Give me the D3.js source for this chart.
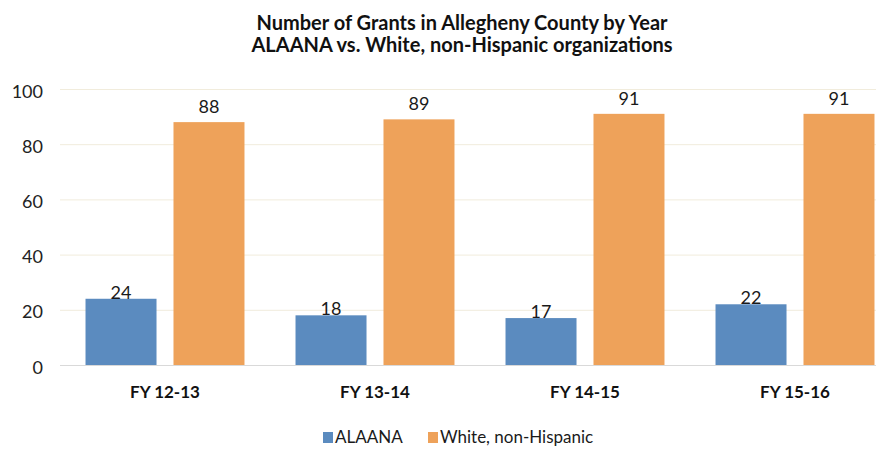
<!DOCTYPE html>
<html>
<head>
<meta charset="utf-8">
<script src="https://cdn.jsdelivr.net/npm/d3@7"></script>
<style>
  html, body { margin: 0; padding: 0; background: #ffffff; }
  svg { display: block; font-family: Lato, "Open Sans", sans-serif; }
</style>
</head>
<body>
<svg id="chart" width="876" height="449"></svg>
<script>
const titleLines = ["Number of Grants in Allegheny County by Year", "ALAANA vs. White, non-Hispanic organizations"];
const categories = ["FY 12-13", "FY 13-14", "FY 14-15", "FY 15-16"];
const seriesNames = ["ALAANA", "White, non-Hispanic"];
const alaana = [24, 18, 17, 22];
const whiteNonHispanic = [88, 89, 91, 91];
const yTicks = [0, 20, 40, 60, 80, 100];
const colors = ["#5b8bbf", "#eea25a"];

const seriesValues = [alaana, whiteNonHispanic];
const rows = categories.map((c, i) => ({
  cat: c,
  vals: seriesNames.map((s, j) => ({ series: s, idx: j, value: seriesValues[j][i] }))
}));

const W = 876, H = 449;
const svg = d3.select("#chart");
svg.append("rect").attr("width", W).attr("height", H).attr("fill", "#ffffff");

const plotLeft = 60, plotRight = 900, plotTop = 89, plotBottom = 365;

const x0 = d3.scaleBand().domain(categories).range([plotLeft, plotRight])
  .paddingInner(0.243).paddingOuter(0.1215);
const x1 = d3.scaleBand().domain(seriesNames).range([0, x0.bandwidth()])
  .paddingInner(0.193);
const y = d3.scaleLinear().domain([0, 100]).range([plotBottom, plotTop]);
const color = d3.scaleOrdinal().domain(seriesNames).range(colors);

// Title
const title = svg.append("text").attr("text-anchor", "middle")
  .attr("font-weight", "bold").attr("font-size", 20).attr("fill", "#111");
titleLines.forEach((t, i) => {
  title.append("tspan").attr("x", 462).attr("y", 30 + i * 22).text(t);
});

// Gridlines
svg.append("g").selectAll("line").data(yTicks.filter(d => d > 0)).join("line")
  .attr("x1", plotLeft).attr("x2", W)
  .attr("y1", d => y(d) + 0.5).attr("y2", d => y(d) + 0.5)
  .attr("stroke", "#f1ecdc").attr("stroke-width", 1);

// Y axis
const yAxis = svg.append("g").attr("transform", `translate(${plotLeft},0)`)
  .call(d3.axisLeft(y).tickValues(yTicks).tickSize(0).tickPadding(17));
yAxis.select(".domain").remove();
yAxis.selectAll("text").attr("font-size", 18).attr("fill", "#222")
  .attr("font-family", "Lato, sans-serif").attr("dy", "0.45em");

// Bars
const groups = svg.append("g").selectAll("g").data(rows).join("g")
  .attr("transform", d => `translate(${x0(d.cat)},0)`);
groups.selectAll("rect").data(d => d.vals).join("rect")
  .attr("x", d => x1(d.series))
  .attr("width", x1.bandwidth())
  .attr("y", d => y(d.value))
  .attr("height", d => y(0) - y(d.value))
  .attr("fill", d => color(d.series));

// Value labels
groups.selectAll("text").data(d => d.vals).join("text")
  .attr("x", d => x1(d.series) + x1.bandwidth() / 2)
  .attr("y", d => y(d.value) - (d.idx === 0 ? 0 : 9))
  .attr("text-anchor", "middle")
  .attr("font-size", 18).attr("fill", "#1a1a1a")
  .text(d => d.value);

// Baseline
svg.append("line").attr("x1", plotLeft).attr("x2", W)
  .attr("y1", y(0) + 0.5).attr("y2", y(0) + 0.5)
  .attr("stroke", "#d9d9d9").attr("stroke-width", 1);

// X axis
const xAxis = svg.append("g").attr("transform", `translate(0,${plotBottom})`)
  .call(d3.axisBottom(x0).tickSize(0).tickPadding(21));
xAxis.select(".domain").remove();
xAxis.selectAll("text").attr("font-size", 17).attr("font-weight", "bold")
  .attr("fill", "#111").attr("font-family", "Lato, sans-serif");

// Legend
const legendX = [323, 428];
const legend = svg.append("g").selectAll("g").data(seriesNames).join("g")
  .attr("transform", (d, i) => `translate(${legendX[i]},432)`);
legend.append("rect").attr("width", 10).attr("height", 11)
  .attr("fill", d => color(d));
legend.append("text").attr("x", 12).attr("y", 5.5).attr("dy", "0.35em")
  .attr("font-size", 17).attr("fill", "#1a1a1a").text(d => d);
</script>
</body>
</html>
